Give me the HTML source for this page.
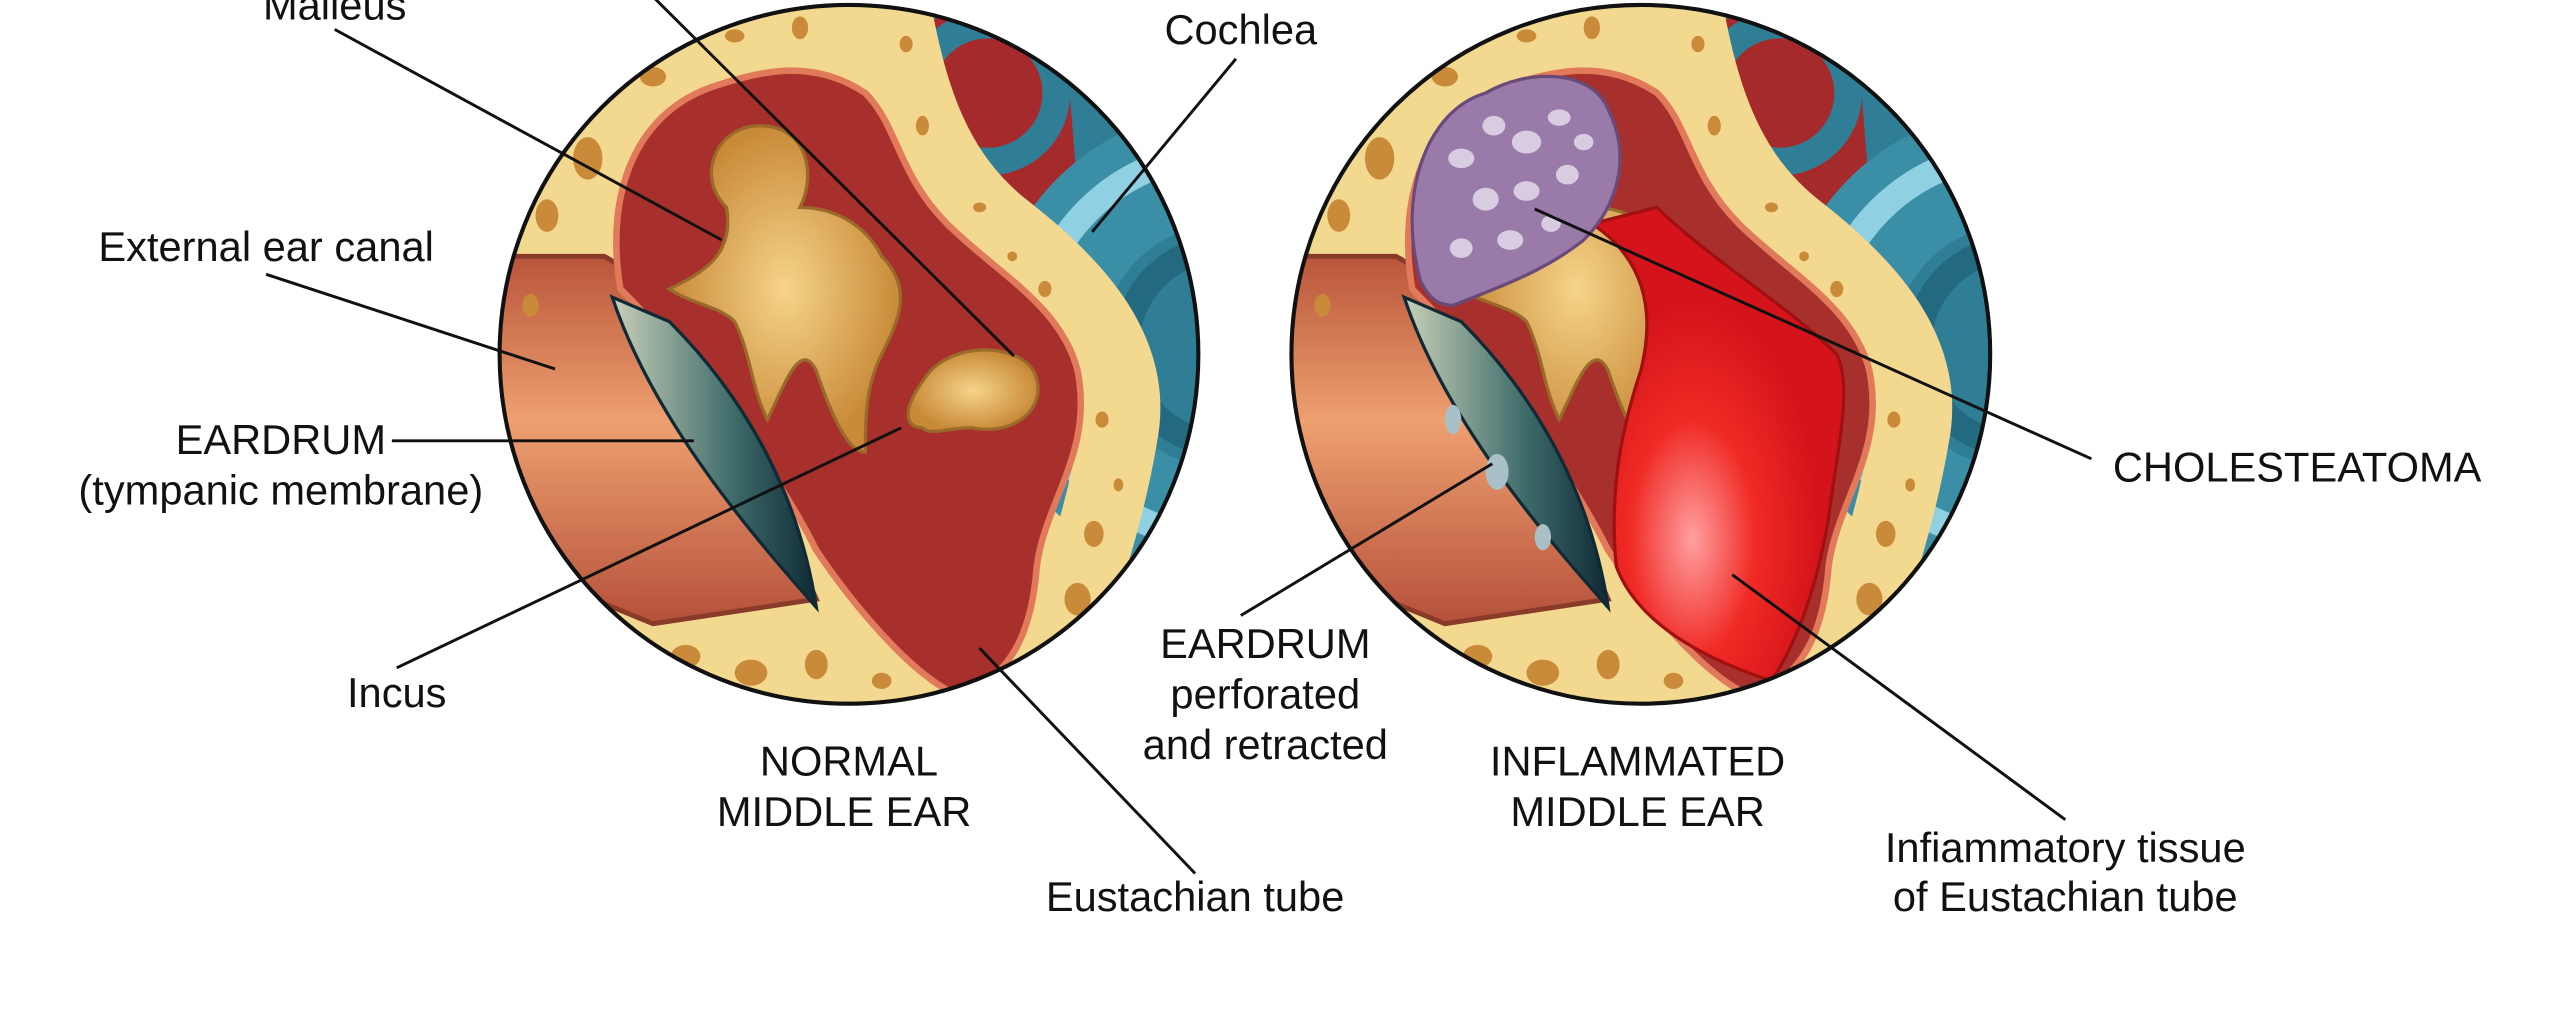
<!DOCTYPE html>
<html><head><meta charset="utf-8"><style>
html,body{margin:0;padding:0;background:#fff;}
svg{display:block}
text{font-family:"Liberation Sans",sans-serif;font-size:25.5px;fill:#111;}
</style></head><body>
<svg width="2560" height="1027" viewBox="0 0 1568 629" preserveAspectRatio="none">
<defs>
<clipPath id="c1"><circle cx="520" cy="217" r="214"/></clipPath>
<clipPath id="c2"><circle cx="1005" cy="217" r="214"/></clipPath>
<linearGradient id="canal" x1="0" y1="0" x2="0" y2="1"><stop offset="0" stop-color="#b9553a"/><stop offset="0.45" stop-color="#eea070"/><stop offset="1" stop-color="#b5503a"/></linearGradient>
<linearGradient id="drum" x1="0" y1="0" x2="1" y2="0"><stop offset="0" stop-color="#c8d0b8"/><stop offset="0.6" stop-color="#3d6a6a"/><stop offset="1" stop-color="#0f2a35"/></linearGradient>
<radialGradient id="oss"><stop offset="0" stop-color="#f5d48a"/><stop offset="1" stop-color="#c98a38"/></radialGradient>
<radialGradient id="red2" cx="0.4" cy="0.7"><stop offset="0" stop-color="#ffa0a0"/><stop offset="0.5" stop-color="#f02a25"/><stop offset="1" stop-color="#d4141a"/></radialGradient>
<g id="ear">
 <rect x="-300" y="-300" width="600" height="600" fill="#f3d88f"/>
 <!-- cochlea -->
 <path d="M20,-230 L240,-230 L240,200 L120,200 L150,60 L90,-60 Z" fill="#2f7e96"/>
 <path d="M30,-225 L130,-225 L140,-100 L110,-60 L60,-100 Z" fill="#a52a2c"/>
 <circle cx="230" cy="-5" r="110" fill="none" stroke="#3a8ea6" stroke-width="70"/>
 <circle cx="230" cy="-5" r="118" fill="none" stroke="#8fd0e2" stroke-width="16"/>
 <circle cx="230" cy="-5" r="60" fill="none" stroke="#236a80" stroke-width="16"/>
 <circle cx="85" cy="-160" r="42" fill="none" stroke="#2f7e96" stroke-width="17"/>
 <path d="M40,-215 C90,-220 160,-200 200,-150" fill="none" stroke="#3d95ad" stroke-width="20"/>
 <!-- bone band next to cochlea -->
 <path d="M25,-220 C35,-160 50,-110 95,-75 C140,-40 175,0 165,50 C155,110 135,160 115,220" fill="none" stroke="#f3d88f" stroke-width="48"/>
 <!-- canal -->
 <path d="M-230,-60 L-150,-60 C-110,-40 -60,60 -20,150 L-120,165 L-230,120 Z" fill="url(#canal)" stroke="#8a3a28" stroke-width="3"/>
 <!-- cavity -->
 <path d="M-140,-40 C-150,-100 -130,-150 -80,-165 C-50,-175 -20,-180 10,-160 C30,-140 30,-110 60,-80 C90,-50 130,-30 140,10 C150,60 120,90 115,130 C112,170 100,195 70,210 C40,200 0,150 -20,120 C-50,60 -100,0 -140,-40 Z" fill="#a8302c" stroke="#e07a5a" stroke-width="4"/>
 <!-- eardrum -->
 <path d="M-145,-35 C-120,40 -60,110 -20,155 C-30,90 -60,30 -110,-20 Z" fill="url(#drum)" stroke="#0f2a35" stroke-width="2"/>
 <!-- ossicles -->
 <path d="M-110,-40 C-90,-50 -70,-60 -75,-90 C-95,-110 -80,-140 -55,-140 C-25,-140 -20,-110 -30,-90 C-10,-90 10,-80 20,-60 C40,-40 30,-20 20,0 C10,20 10,40 10,60 C0,60 -10,40 -20,10 C-30,-10 -40,20 -50,40 C-60,20 -60,0 -70,-20 C-80,-30 -95,-30 -110,-40 Z" fill="url(#oss)" stroke="#9a6a2a" stroke-width="2"/>
 <path d="M50,10 C70,-10 110,-5 115,15 C120,35 100,50 75,45 C60,45 50,50 45,45 C35,45 30,35 50,10 Z" fill="url(#oss)" stroke="#9a6a2a" stroke-width="2"/>
</g>
<g id="pores" fill="#c98a3a">
 <ellipse cx="-160" cy="-120" rx="9" ry="13"/><ellipse cx="-185" cy="-85" rx="7" ry="10"/><ellipse cx="-120" cy="-170" rx="8" ry="6"/>
 <ellipse cx="-70" cy="-195" rx="6" ry="4"/><ellipse cx="-30" cy="-200" rx="5" ry="7"/><ellipse cx="-100" cy="185" rx="9" ry="7"/>
 <ellipse cx="-60" cy="195" rx="10" ry="8"/><ellipse cx="-20" cy="190" rx="7" ry="9"/><ellipse cx="140" cy="150" rx="8" ry="10"/>
 <ellipse cx="150" cy="110" rx="6" ry="8"/><ellipse cx="155" cy="40" rx="4" ry="5"/><ellipse cx="120" cy="-40" rx="4" ry="5"/><ellipse cx="80" cy="-90" rx="4" ry="3"/><ellipse cx="45" cy="-140" rx="4" ry="6"/><ellipse cx="35" cy="-190" rx="4" ry="5"/><ellipse cx="165" cy="80" rx="3" ry="4"/><ellipse cx="100" cy="-60" rx="3" ry="3"/>
 <ellipse cx="-195" cy="-30" rx="5" ry="7"/><ellipse cx="-140" cy="170" rx="6" ry="5"/><ellipse cx="20" cy="200" rx="6" ry="5"/>
</g>
</defs>
<g clip-path="url(#c1)"><g transform="translate(520,217)"><use href="#ear"/><use href="#pores"/></g></g>
<circle cx="520" cy="217" r="214" fill="none" stroke="#111" stroke-width="2.5"/>
<g clip-path="url(#c2)"><g transform="translate(1005,217)"><use href="#ear"/><use href="#pores"/>
 <path d="M-30,-80 C0,-60 10,-30 0,10 C-10,40 -20,80 -15,130 C0,170 50,190 80,200 C100,170 110,130 115,100 C120,60 130,20 120,0 C90,-30 40,-60 10,-90 Z" fill="url(#red2)" stroke="#a01010" stroke-width="2"/>
 <path d="M-135,-45 C-150,-100 -130,-150 -95,-160 C-70,-175 -30,-175 -20,-150 C-5,-120 -15,-90 -35,-70 C-60,-50 -90,-40 -115,-30 C-125,-30 -130,-35 -135,-45 Z" fill="#9a7aa8" stroke="#6a4a78" stroke-width="2"/>
 <g fill="#d8cde0"><ellipse cx="-110" cy="-120" rx="8" ry="6"/><ellipse cx="-90" cy="-140" rx="7" ry="6"/><ellipse cx="-70" cy="-130" rx="9" ry="7"/><ellipse cx="-50" cy="-145" rx="7" ry="5"/><ellipse cx="-95" cy="-95" rx="8" ry="7"/><ellipse cx="-70" cy="-100" rx="8" ry="6"/><ellipse cx="-45" cy="-110" rx="7" ry="6"/><ellipse cx="-110" cy="-65" rx="7" ry="6"/><ellipse cx="-80" cy="-70" rx="8" ry="6"/><ellipse cx="-55" cy="-80" rx="6" ry="5"/><ellipse cx="-35" cy="-130" rx="6" ry="5"/></g>
 <g fill="#a9c0c8"><ellipse cx="-115" cy="40" rx="5" ry="9"/><ellipse cx="-88" cy="72" rx="7" ry="11"/><ellipse cx="-60" cy="112" rx="5" ry="8"/></g>
</g></g>
<circle cx="1005" cy="217" r="214" fill="none" stroke="#111" stroke-width="2.5"/>
<g stroke="#111" stroke-width="1.8">
<line x1="205" y1="18" x2="442" y2="147"/>
<line x1="400" y1="-2" x2="621" y2="218"/>
<line x1="757" y1="36" x2="669" y2="142"/>
<line x1="163" y1="168" x2="340" y2="226"/>
<line x1="240" y1="270" x2="425" y2="270"/>
<line x1="243" y1="409" x2="552" y2="262"/>
<line x1="732" y1="535" x2="600" y2="397"/>
<line x1="760" y1="377" x2="914" y2="284"/>
<line x1="1281" y1="281" x2="940" y2="128"/>
<line x1="1265" y1="502" x2="1061" y2="352"/>
</g>
<text x="205" y="12" text-anchor="middle">Malleus</text>
<text x="760" y="27" text-anchor="middle">Cochlea</text>
<text x="1243" y="-2" text-anchor="middle">MIDDLE EAR</text>
<text x="163" y="160" text-anchor="middle">External ear canal</text>
<text x="172" y="278" text-anchor="middle">EARDRUM</text>
<text x="172" y="309" text-anchor="middle">(tympanic membrane)</text>
<text x="243" y="433" text-anchor="middle">Incus</text>
<text x="520" y="475" text-anchor="middle">NORMAL</text>
<text x="517" y="506" text-anchor="middle">MIDDLE EAR</text>
<text x="732" y="558" text-anchor="middle">Eustachian tube</text>
<text x="775" y="403" text-anchor="middle">EARDRUM</text>
<text x="775" y="434" text-anchor="middle">perforated</text>
<text x="775" y="465" text-anchor="middle">and retracted</text>
<text x="1003" y="475" text-anchor="middle">INFLAMMATED</text>
<text x="1003" y="506" text-anchor="middle">MIDDLE EAR</text>
<text x="1407" y="295" text-anchor="middle">CHOLESTEATOMA</text>
<text x="1265" y="528" text-anchor="middle">Infiammatory tissue</text>
<text x="1265" y="558" text-anchor="middle">of Eustachian tube</text>
</svg>
</body></html>
